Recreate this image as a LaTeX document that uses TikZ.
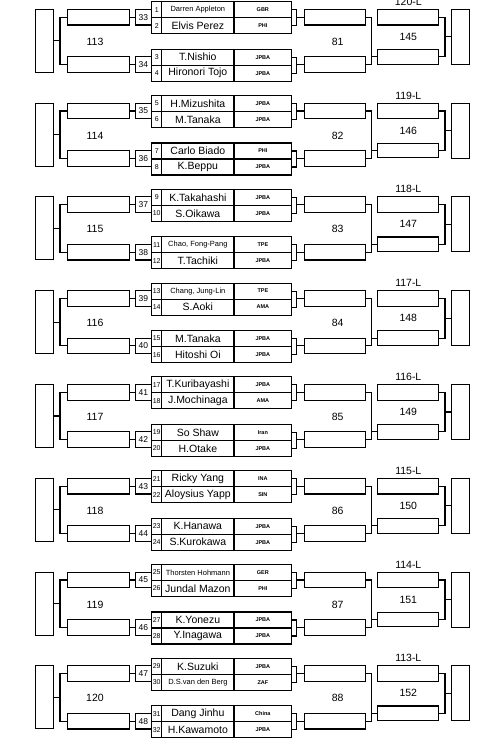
\documentclass[tikz,border=0pt]{standalone}
\usepackage{fontspec}
\setmainfont{Liberation Sans}
\usetikzlibrary{positioning}

\newcommand{\smname}[1]{{\fontsize{7.5}{7.5}\selectfont #1}}

\tikzset{
  slot/.style={draw, inner sep=0pt, outer sep=0pt, minimum width=61.5pt, minimum height=15.7pt},
  tall/.style={draw, inner sep=0pt, outer sep=0pt, minimum width=18pt, minimum height=#1},
  num/.style={draw, inner sep=0pt, outer sep=0pt, minimum width=16.7pt, minimum height=15.7pt, font=\fontsize{8.5}{8.5}\selectfont},
  seed/.style={draw, inner sep=0pt, outer sep=0pt, minimum width=10pt, minimum height=16pt, font=\fontsize{7}{7}\selectfont},
  pname/.style={draw, inner sep=0pt, outer sep=0pt, minimum width=72.3pt, minimum height=16pt, font=\fontsize{10.5}{10.5}\selectfont},
  pnat/.style={draw, inner sep=0pt, outer sep=0pt, minimum width=57.7pt, minimum height=16pt, font=\fontsize{5.5}{5.5}\selectfont\bfseries},
  lbl/.style={font=\fontsize{10.5}{10.5}\selectfont}
}

\begin{document}
\begin{tikzpicture}[x=1pt, y=-1pt, line width=1.1pt]
\useasboundingbox (0,0) rectangle (500,740);

\foreach \blk/\na/\ca/\nb/\cb/\nc/\cc/\nd/\cd in {
  0/{\smname{Darren Appleton}}/GBR/Elvis Perez/PHI/T.Nishio/JPBA/Hironori Tojo/JPBA,
  1/H.Mizushita/JPBA/M.Tanaka/JPBA/Carlo Biado/PHI/K.Beppu/JPBA,
  2/K.Takahashi/JPBA/S.Oikawa/JPBA/{\smname{Chao, Fong-Pang}}/TPE/T.Tachiki/JPBA,
  3/{\smname{Chang, Jung-Lin}}/TPE/S.Aoki/AMA/M.Tanaka/JPBA/Hitoshi Oi/JPBA,
  4/T.Kuribayashi/JPBA/J.Mochinaga/AMA/So Shaw/Iran/H.Otake/JPBA,
  5/Ricky Yang/INA/Aloysius Yapp/SIN/K.Hanawa/JPBA/S.Kurokawa/JPBA,
  6/{\smname{Thorsten Hohmann}}/GER/Jundal Mazon/PHI/K.Yonezu/JPBA/Y.Inagawa/JPBA,
  7/K.Suzuki/JPBA/{\smname{D.S.van den Berg}}/ZAF/Dang Jinhu/China/H.Kawamoto/JPBA}{
  \pgfmathsetmacro\dy{93.8*\blk}
  \pgfmathtruncatemacro\sa{4*\blk+1}
  \pgfmathtruncatemacro\sb{4*\blk+2}
  \pgfmathtruncatemacro\sc{4*\blk+3}
  \pgfmathtruncatemacro\sd{4*\blk+4}
  \pgfmathtruncatemacro\ma{33+2*\blk}
  \pgfmathtruncatemacro\mb{34+2*\blk}
  \pgfmathtruncatemacro\lo{113+\blk}
  \pgfmathtruncatemacro\mi{81+\blk}
  \pgfmathtruncatemacro\hi{145+\blk}
  \pgfmathtruncatemacro\lost{120-\blk}
  \begin{scope}[shift={(0,\dy)}]
    % left side
    \node[tall=63pt] (wl\blk) at (44.2,40.8) {};
    \node[slot] (ua\blk) at (98.5,17.15) {};
    \node[slot] (ub\blk) at (98.5,64.5) {};
    \node[num] (ma\blk) at (143.4,17.15) {\ma};
    \node[num] (mb\blk) at (143.4,64.5) {\mb};
    \coordinate (jD\blk) at (60,40.8);

    % players
    \node[seed] (sa\blk) at (156.7,9.7) {\sa};
    \node[pname, right=0pt of sa\blk] (na\blk) {\na};
    \node[pnat, right=0pt of na\blk] (ca\blk) {\ca};
    \node[seed, below=0pt of sa\blk] (sb\blk) {\sb};
    \node[pname, right=0pt of sb\blk] (nb\blk) {\nb};
    \node[pnat, right=0pt of nb\blk] (cb\blk) {\cb};
    \node[seed] (sc\blk) at (156.7,57.2) {\sc};
    \node[pname, right=0pt of sc\blk] (nc\blk) {\nc};
    \node[pnat, right=0pt of nc\blk] (cc\blk) {\cc};
    \node[seed, below=0pt of sc\blk] (sd\blk) {\sd};
    \node[pname, right=0pt of sd\blk] (nd\blk) {\nd};
    \node[pnat, right=0pt of nd\blk] (cd\blk) {\cd};

    % right side
    \coordinate (jA\blk) at (296.7,17.15);
    \coordinate (jE\blk) at (296.7,64.5);
    \node[slot] (la\blk) at (335,17.15) {};
    \node[slot] (lb\blk) at (335,64.5) {};
    \coordinate (jB\blk) at (371.7,56.7);
    \node[slot] (rc\blk) at (408,17.15) {};
    \node[slot, minimum height=14.7pt] (rd\blk) at (408,56.7) {};
    \coordinate (jC\blk) at (445,36.8);
    \node[tall=55pt] (fin\blk) at (460.5,36.8) {};

    % labels
    \node[lbl] (tlo\blk) at (95,41.7) {\lo};
    \node[lbl] (tmi\blk) at (337.7,41.7) {\mi};
    \node[lbl] (thi\blk) at (408.3,36.7) {\hi};
    \node[lbl] (tls\blk) at (408.3,1.7) {\lost-L};

    % connectors
    \draw (ua\blk.west) -| (jD\blk) |- (ub\blk.west);
    \draw (jD\blk) -- (wl\blk);
    \draw (ua\blk) -- (ma\blk);
    \draw (ub\blk) -- (mb\blk);
    \draw (ca\blk.east) -| (jA\blk) |- (cb\blk.east);
    \draw (jA\blk) -- (la\blk);
    \draw (cc\blk.east) -| (jE\blk) |- (cd\blk.east);
    \draw (jE\blk) -- (lb\blk);
    \draw (la\blk.east) -| (jB\blk) |- (lb\blk.east);
    \draw (jB\blk) -- (rd\blk);
    \draw (rc\blk.east) -| (jC\blk) |- (rd\blk.east);
    \draw (jC\blk) -- (fin\blk);
  \end{scope}
}
\end{tikzpicture}
\end{document}
